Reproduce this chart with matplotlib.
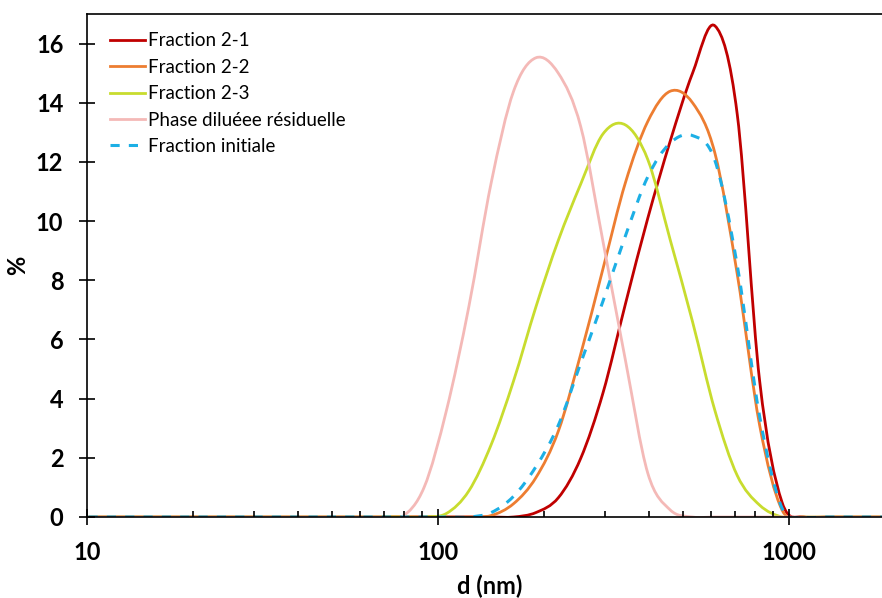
import numpy as np
import matplotlib
matplotlib.use("Agg")
import matplotlib.pyplot as plt
from matplotlib.path import Path
from matplotlib.patches import PathPatch
from matplotlib.lines import Line2D
from matplotlib.ticker import FixedLocator, NullFormatter, FixedFormatter

plt.rcParams['font.family'] = ['Lato', 'DejaVu Sans']

# Size classes (nm)
sizes = [10.10, 11.70, 13.54, 15.69, 18.17, 21.04, 24.36, 28.21, 32.67, 37.84,
         43.82, 50.75, 58.77, 68.06, 78.82, 91.28, 105.7, 122.4, 141.8, 164.2,
         190.1, 220.2, 255.0, 295.3, 342.0, 396.1, 458.7, 531.2, 615.1, 712.4,
         825.0, 955.4, 1106, 1281, 1484, 1718, 1990]

zeros_low = [0.0] * 14  # 10.10 .. 68.06

fraction_2_1 = zeros_low + [0, 0, 0, 0, 0, 0, 0.15, 0.65, 1.98, 4.2, 7.2, 10.1,
                            12.7, 15.0, 16.6, 13.6, 4.6, 0.5, 0, 0, 0, 0, 0]
fraction_2_2 = zeros_low + [0, 0, 0, 0, 0.05, 0.45, 1.33, 2.9, 5.5, 8.4, 11.3, 13.37,
                            14.39, 14.0, 12.3, 8.2, 3.1, 0.24, 0, 0, 0, 0, 0]
fraction_2_3 = zeros_low + [0, 0, 0.12, 0.88, 2.45, 4.6, 7.1, 9.35, 11.25, 12.95, 13.25, 12.08,
                            9.37, 6.6, 3.6, 1.4, 0.4, 0, 0, 0, 0, 0, 0]
phase_diluee = zeros_low + [0, 1.0, 3.6, 7.1, 11.3, 14.39, 15.52, 15.0, 13.2, 9.3, 5.3, 1.48,
                            0.24, 0, 0, 0, 0, 0, 0, 0, 0, 0, 0]
fraction_initiale = zeros_low + [0, 0, 0, 0, 0.15, 0.7, 1.7, 3.1, 5.2, 7.3, 9.5, 11.5,
                                 12.64, 12.89, 12.05, 8.5, 3.4, 0.3, 0, 0, 0, 0, 0]

labels = ["Fraction 2-1", "Fraction 2-2", "Fraction 2-3",
          "Phase diluéee résiduelle", "Fraction initiale"]
series = [fraction_2_1, fraction_2_2, fraction_2_3, phase_diluee, fraction_initiale]
colors = ["#C00000", "#ED7D31", "#C8DC2E", "#F4B9B7", "#1CAFE5"]
widths = [2.0, 2.0, 2.0, 2.0, 2.2]
styles = ["-", "-", "-", "-", (0, (3.0, 3.0))]


def smooth_path(x, y):
    """Smoothed line through the points: cubic Bezier segments with
    Catmull-Rom control points, computed in log10(x) space."""
    lx = np.log10(np.asarray(x, float))
    yy = np.asarray(y, float)
    n = len(lx)
    verts = [(x[0], yy[0])]
    codes = [Path.MOVETO]
    for i in range(n - 1):
        i0 = max(i - 1, 0)
        i3 = min(i + 2, n - 1)
        c1x = lx[i] + (lx[i + 1] - lx[i0]) / 6
        c1y = yy[i] + (yy[i + 1] - yy[i0]) / 6
        c2x = lx[i + 1] - (lx[i3] - lx[i]) / 6
        c2y = yy[i + 1] - (yy[i3] - yy[i]) / 6
        verts += [(10 ** c1x, c1y), (10 ** c2x, c2y), (x[i + 1], yy[i + 1])]
        codes += [Path.CURVE4] * 3
    return Path(verts, codes)


fig = plt.figure(figsize=(8.82, 5.98), dpi=100)
ax = fig.add_axes([87 / 882, 1 - 517 / 598, 1 - 87 / 882, (517 - 14) / 598])
ax.set_xscale('log')
ax.set_xlim(10, 1841)
ax.set_ylim(0, 17)

handles = []
for vals, lab, col, lw, ls in zip(series, labels, colors, widths, styles):
    patch = PathPatch(smooth_path(sizes, vals), fill=False, edgecolor=col,
                      linewidth=lw, linestyle=ls, capstyle='butt', clip_on=True)
    ax.add_patch(patch)
    handles.append(Line2D([], [], color=col, linewidth=lw, linestyle=ls))

# Spines
for side in ['left', 'bottom', 'top']:
    ax.spines[side].set_color('black')
    ax.spines[side].set_linewidth(1.2)
ax.spines['right'].set_visible(False)

# Ticks
ax.xaxis.set_major_locator(FixedLocator([10, 100, 1000]))
ax.xaxis.set_major_formatter(FixedFormatter(["10", "100", "1000"]))
minor = [m * 10 ** e for e in (1, 2, 3) for m in range(2, 10)]
ax.xaxis.set_minor_locator(FixedLocator(minor))
ax.xaxis.set_minor_formatter(NullFormatter())
ax.set_yticks(np.arange(0, 17, 2))
ax.tick_params(axis='x', which='major', direction='inout', length=12, width=1.2,
               pad=11, labelsize=17, top=False)
ax.tick_params(axis='x', which='minor', direction='in', length=4.5, width=1.2, top=False)
ax.tick_params(axis='y', which='major', direction='inout', length=12, width=1.2,
               pad=11, labelsize=17, right=False)
for t in ax.get_xticklabels() + ax.get_yticklabels():
    t.set_fontweight('bold')

fig.text(490 / 882, 1 - 594 / 598, "d (nm)", ha='center', va='baseline',
         fontsize=17, fontweight='bold')
fig.text(18 / 882, 1 - 265 / 598, "%", ha='center', va='center', rotation=90,
         fontsize=17, fontweight='bold')

ax.legend(handles, labels, loc='upper left', bbox_to_anchor=(0.008, 0.997),
          frameon=False, fontsize=13.5, handlelength=1.85, handletextpad=0.15,
          labelspacing=0.5, borderaxespad=0.6, borderpad=0.3)

fig.savefig("out.png", dpi=100)
